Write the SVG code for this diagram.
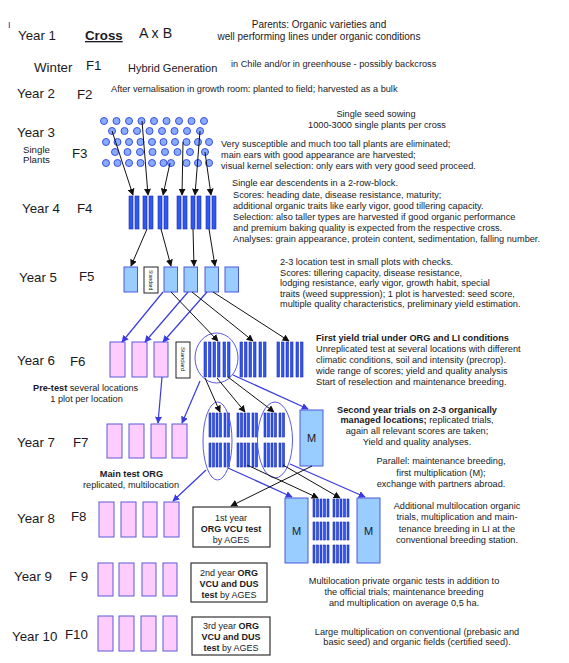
<svg xmlns="http://www.w3.org/2000/svg" xmlns:xlink="http://www.w3.org/1999/xlink" width="569" height="663" viewBox="0 0 569 663">
<style>
text{font-family:"Liberation Sans",Arial,sans-serif;fill:#1a1a24}
.yr{font-size:13.3px}
.sm{font-size:9.2px}
.mid{text-anchor:middle}
.b{font-weight:bold}
.pl{font-size:9.7px}
.plot{fill:#99ccff;stroke:#4a5ae0;stroke-width:1}
.pink{fill:#ffccff;stroke:#5a5ad8;stroke-width:1}
.std{fill:#fff;stroke:#222;stroke-width:1}
.bar{fill:#3058ee;stroke:#1c2cb8;stroke-width:0.6}
.dot{fill:#88aaff;stroke:#3a50e0;stroke-width:1}
.ell{fill:none;stroke:#5a5ae0;stroke-width:1}
.ab{stroke:#111;stroke-width:1;fill:none;marker-end:url(#mb)}
.au{stroke:#3a3ae0;stroke-width:1.2;fill:none;marker-end:url(#mu)}
.box{fill:#fff;stroke:#333;stroke-width:1.2}
.bt{font-size:9px;text-anchor:middle}
.st{font-size:5px}
</style>
<defs>
<marker id="mb" viewBox="0 0 10 10" refX="9" refY="5" markerWidth="7" markerHeight="7" orient="auto" markerUnits="userSpaceOnUse"><path d="M0,0 L10,5 L0,10 z" fill="#111"/></marker>
<marker id="mu" viewBox="0 0 10 10" refX="9" refY="5" markerWidth="7" markerHeight="7" orient="auto" markerUnits="userSpaceOnUse"><path d="M0,0 L10,5 L0,10 z" fill="#3a3ae0"/></marker>
<g id="pair"><rect class="bar" x="0" y="0" width="4" height="33"/><rect class="bar" x="6" y="0" width="4" height="33"/></g>
<g id="g6"><rect class="bar" x="0" y="0" width="2.5" height="35"/><rect class="bar" x="4.5" y="0" width="2.5" height="35"/><rect class="bar" x="9" y="0" width="2.5" height="35"/><rect class="bar" x="13.5" y="0" width="2.5" height="35"/><rect class="bar" x="19" y="0" width="2.5" height="35"/><rect class="bar" x="23.5" y="0" width="2.5" height="35"/></g>
<g id="r7"><rect class="bar" x="0" y="0" width="2" height="24"/><rect class="bar" x="3.5" y="0" width="2" height="24"/><rect class="bar" x="7" y="0" width="2" height="24"/><rect class="bar" x="10.5" y="0" width="2" height="24"/><rect class="bar" x="15" y="0" width="2" height="24"/><rect class="bar" x="18.5" y="0" width="2" height="24"/></g>
<g id="g7"><use xlink:href="#r7" x="0" y="0"/><use xlink:href="#r7" x="0" y="30"/></g>
<g id="r8"><rect class="bar" x="0" y="0" width="2" height="18"/><rect class="bar" x="3.5" y="0" width="2" height="18"/><rect class="bar" x="7" y="0" width="2" height="18"/><rect class="bar" x="10.5" y="0" width="2" height="18"/><rect class="bar" x="14" y="0" width="2" height="18"/><rect class="bar" x="20" y="0" width="2" height="18"/><rect class="bar" x="23.5" y="0" width="2" height="18"/><rect class="bar" x="27" y="0" width="2" height="18"/><rect class="bar" x="30.5" y="0" width="2" height="18"/><rect class="bar" x="34" y="0" width="2" height="18"/></g>
</defs>

<text x="8" y="28" style="font-size:9px;fill:#2030a0">I</text>

<g id="year1">
<text class="yr" x="18" y="40">Year 1</text>
<text class="yr b" x="85" y="40" text-decoration="underline">Cross</text>
<text x="139" y="38" style="font-size:14.2px">A x B</text>
<text x="319" y="28" class="mid" style="font-size:10px">Parents: Organic varieties and</text>
<text x="319" y="40" class="mid" style="font-size:10px">well performing lines under organic conditions</text>
</g>

<g id="winter">
<text class="yr" x="34" y="72">Winter</text>
<text class="yr" x="86" y="70">F1</text>
<text x="128" y="72" style="font-size:11px">Hybrid Generation</text>
<text class="sm" x="231" y="67">in Chile and/or in greenhouse -  possibly backcross</text>
</g>

<g id="year2">
<text class="yr" x="17" y="98">Year 2</text>
<text class="yr" x="77" y="99">F2</text>
<text class="sm" x="111" y="92">After vernalisation in growth room: planted to field; harvested as a bulk</text>
</g>

<g id="year3">
<text class="yr" x="17" y="137">Year 3</text>
<text class="pl" x="23" y="153">Single</text>
<text class="pl" x="23" y="163">Plants</text>
<text class="yr" x="72" y="158">F3</text>
<g id="plants">
<circle class="dot" cx="104" cy="121" r="3.5"/><circle class="dot" cx="116.5" cy="121" r="3.5"/><circle class="dot" cx="129" cy="121" r="3.5"/><circle class="dot" cx="141.5" cy="121" r="3.5"/><circle class="dot" cx="154" cy="121" r="3.5"/><circle class="dot" cx="166.5" cy="121" r="3.5"/><circle class="dot" cx="179" cy="121" r="3.5"/><circle class="dot" cx="191.5" cy="121" r="3.5"/><circle class="dot" cx="204" cy="121" r="3.5"/>
<circle class="dot" cx="112" cy="131" r="3.5"/><circle class="dot" cx="124.5" cy="131" r="3.5"/><circle class="dot" cx="137" cy="131" r="3.5"/><circle class="dot" cx="149.5" cy="131" r="3.5"/><circle class="dot" cx="162" cy="131" r="3.5"/><circle class="dot" cx="174.5" cy="131" r="3.5"/><circle class="dot" cx="187" cy="131" r="3.5"/><circle class="dot" cx="200" cy="131" r="3.5"/>
<circle class="dot" cx="106" cy="142" r="3.5"/><circle class="dot" cx="117.5" cy="142" r="3.5"/><circle class="dot" cx="129" cy="142" r="3.5"/><circle class="dot" cx="140.5" cy="142" r="3.5"/><circle class="dot" cx="152" cy="142" r="3.5"/><circle class="dot" cx="163.5" cy="142" r="3.5"/><circle class="dot" cx="175" cy="142" r="3.5"/><circle class="dot" cx="186.5" cy="142" r="3.5"/><circle class="dot" cx="198" cy="142" r="3.5"/><circle class="dot" cx="209" cy="142" r="3.5"/>
<circle class="dot" cx="115" cy="152" r="3.5"/><circle class="dot" cx="127.5" cy="152" r="3.5"/><circle class="dot" cx="140" cy="152" r="3.5"/><circle class="dot" cx="152.5" cy="152" r="3.5"/><circle class="dot" cx="165" cy="152" r="3.5"/><circle class="dot" cx="177.5" cy="152" r="3.5"/><circle class="dot" cx="190" cy="152" r="3.5"/><circle class="dot" cx="205" cy="152" r="3.5"/>
<circle class="dot" cx="106" cy="163" r="3.5"/><circle class="dot" cx="117.5" cy="163" r="3.5"/><circle class="dot" cx="129" cy="163" r="3.5"/><circle class="dot" cx="140.5" cy="163" r="3.5"/><circle class="dot" cx="152" cy="163" r="3.5"/><circle class="dot" cx="163.5" cy="163" r="3.5"/><circle class="dot" cx="171" cy="163" r="3.5"/><circle class="dot" cx="186.5" cy="163" r="3.5"/><circle class="dot" cx="198" cy="163" r="3.5"/><circle class="dot" cx="209" cy="163" r="3.5"/>
</g>
<text class="sm mid" x="376" y="117">Single seed sowing</text>
<text class="sm mid" x="377" y="128">1000-3000 single plants per cross</text>
<text class="sm" x="221" y="147">Very susceptible and much too tall plants are eliminated;</text>
<text class="sm" x="221" y="158">main ears with good appearance are harvested;</text>
<text class="sm" x="221" y="169">visual kernel selection: only ears with very good seed proceed.</text>
</g>

<g id="year4">
<text class="yr" x="22" y="213">Year 4</text>
<text class="yr" x="77" y="213">F4</text>
<use xlink:href="#pair" x="129" y="196"/><use xlink:href="#pair" x="143" y="196"/><use xlink:href="#pair" x="158" y="196"/><use xlink:href="#pair" x="177" y="196"/><use xlink:href="#pair" x="191" y="196"/><use xlink:href="#pair" x="206" y="196"/>
<text class="sm" x="232" y="186">Single ear descendents in a 2-row-block.</text>
<text class="sm" x="233" y="198">Scores: heading date, disease resistance, maturity;</text>
<text class="sm" x="233" y="209">additional organic traits like early vigor, good tillering capacity.</text>
<text class="sm" x="233" y="220">Selection: also taller types are harvested if good organic performance</text>
<text class="sm" x="233" y="231">and premium baking quality is expected from the respective cross.</text>
<text class="sm" x="233" y="242">Analyses: grain appearance, protein content, sedimentation, falling number.</text>
</g>

<g id="year5">
<text class="yr" x="19" y="282">Year 5</text>
<text class="yr" x="79" y="281">F5</text>
<rect class="plot" x="124" y="267" width="13.5" height="25"/>
<rect class="std" x="144" y="267" width="14" height="26"/>
<text class="st" transform="translate(149.3,270) rotate(90)">Standard</text>
<rect class="plot" x="164" y="267" width="13.5" height="25"/>
<rect class="plot" x="184" y="267" width="13.5" height="25"/>
<rect class="plot" x="205" y="267" width="13.5" height="25"/>
<rect class="plot" x="225" y="267" width="13.5" height="25"/>
<text class="sm" x="280" y="265">2-3 location test in small plots with checks.</text>
<text class="sm" x="280" y="276">Scores: tillering capacity, disease resistance,</text>
<text class="sm" x="280" y="286">lodging resistance, early vigor, growth habit, special</text>
<text class="sm" x="280" y="297">traits (weed suppression); 1 plot is harvested: seed score,</text>
<text class="sm" x="280" y="307">multiple quality characteristics, preliminary yield estimation.</text>
</g>

<g id="year6">
<text class="yr" x="17" y="365">Year 6</text>
<text class="yr" x="70" y="366">F6</text>
<rect class="pink" x="110" y="342" width="15" height="35"/>
<rect class="pink" x="132" y="342" width="15" height="35"/>
<rect class="pink" x="154" y="342" width="14" height="35"/>
<rect class="std" x="176" y="342" width="14" height="36"/>
<text transform="translate(181,347) rotate(90)" style="font-size:6px">Standard</text>
<use xlink:href="#g6" x="204" y="342"/>
<ellipse class="ell" cx="216.5" cy="358" rx="21.5" ry="25"/>
<use xlink:href="#g6" x="240" y="342"/>
<use xlink:href="#g6" x="277" y="342"/>
<text class="sm" x="33" y="391"><tspan class="b">Pre-test</tspan> several locations</text>
<text class="sm mid" x="86.5" y="402">1 plot per location</text>
<text class="sm b" x="316" y="341">First yield trial under ORG and LI conditions</text>
<text class="sm" x="316" y="352">Unreplicated test at several locations with different</text>
<text class="sm" x="316" y="363">climatic conditions, soil and intensity (precrop).</text>
<text class="sm" x="316" y="374">wide range of scores; yield and quality analysis</text>
<text class="sm" x="316" y="385">Start of reselection and maintenance breeding.</text>
</g>

<g id="year7">
<text class="yr" x="17" y="447">Year 7</text>
<text class="yr" x="73" y="447">F7</text>
<rect class="pink" x="107" y="424" width="15" height="34"/>
<rect class="pink" x="129" y="424" width="15" height="34"/>
<rect class="pink" x="151" y="424" width="15" height="34"/>
<rect class="pink" x="172" y="424" width="15" height="34"/>
<use xlink:href="#g7" x="209" y="413"/>
<ellipse class="ell" cx="217.5" cy="441" rx="14.5" ry="39"/>
<use xlink:href="#g7" x="237" y="413"/>
<use xlink:href="#g7" x="264" y="413"/>
<ellipse class="ell" cx="275" cy="440" rx="17.5" ry="38"/>
<rect class="plot" x="300" y="410" width="23" height="56"/>
<text x="311.5" y="442" class="mid" style="font-size:11px">M</text>
<text class="sm mid" x="131.5" y="477"><tspan class="b">Main test  ORG</tspan></text>
<text class="sm mid" x="131" y="488">replicated, multilocation</text>
<text class="sm mid b" x="417" y="413">Second year trials on 2-3 organically</text>
<text class="sm mid" x="417" y="423"><tspan class="b">managed locations;</tspan> replicated trials,</text>
<text class="sm mid" x="417" y="434">again all relevant scores are taken;</text>
<text class="sm mid" x="417" y="445">Yield  and quality analyses.</text>
<text class="sm mid" x="441" y="464">Parallel: maintenance breeding,</text>
<text class="sm mid" x="441" y="476">first multiplication (M);</text>
<text class="sm mid" x="441" y="487">exchange with partners abroad.</text>
</g>

<g id="year8">
<text class="yr" x="17" y="523">Year 8</text>
<text class="yr" x="71" y="521">F8</text>
<rect class="pink" x="99" y="502" width="15" height="35"/>
<rect class="pink" x="121" y="502" width="15" height="35"/>
<rect class="pink" x="143" y="502" width="14" height="35"/>
<rect class="pink" x="164" y="502" width="15" height="35"/>
<rect class="box" x="193" y="507" width="77" height="40"/>
<text class="bt" x="231" y="521">1st  year</text>
<text class="bt b" x="231" y="532">ORG VCU test</text>
<text class="bt" x="231" y="543">by AGES</text>
<rect class="plot" x="285" y="498" width="23" height="65"/>
<text x="296.5" y="535" class="mid" style="font-size:11px">M</text>
<use xlink:href="#r8" x="313" y="499"/>
<use xlink:href="#r8" x="313" y="522"/>
<use xlink:href="#r8" x="313" y="545"/>
<rect class="plot" x="357" y="498" width="23" height="65"/>
<text x="368.5" y="535" class="mid" style="font-size:11px">M</text>
<text class="sm mid" x="457" y="509">Additional multilocation organic</text>
<text class="sm mid" x="457" y="520">trials, multiplication and main-</text>
<text class="sm mid" x="457" y="531.5">tenance breeding in LI at the</text>
<text class="sm mid" x="457" y="542.5">conventional breeding station.</text>
</g>

<g id="year9">
<text class="yr" x="14" y="581">Year 9</text>
<text class="yr" x="69" y="581">F 9</text>
<rect class="pink" x="98" y="563" width="15" height="33"/>
<rect class="pink" x="119" y="563" width="15" height="33"/>
<rect class="pink" x="142" y="563" width="14" height="33"/>
<rect class="pink" x="163" y="563" width="14" height="33"/>
<rect class="box" x="191" y="563" width="76" height="39"/>
<text class="bt" x="229" y="576">2nd  year <tspan class="b">ORG</tspan></text>
<text class="bt b" x="229" y="587">VCU and DUS</text>
<text class="bt" x="229" y="598"><tspan class="b">test</tspan> by AGES</text>
<text class="sm mid" x="404" y="584">Multilocation private organic tests in addition to</text>
<text class="sm mid" x="404" y="595">the official trials; maintenance breeding</text>
<text class="sm mid" x="404" y="606">and multiplication on average 0,5 ha.</text>
</g>

<g id="year10">
<text class="yr" x="12" y="641">Year 10</text>
<text class="yr" x="65" y="639">F10</text>
<rect class="pink" x="98" y="616" width="15" height="35"/>
<rect class="pink" x="119" y="616" width="15" height="35"/>
<rect class="pink" x="141" y="616" width="15" height="35"/>
<rect class="pink" x="163" y="616" width="14" height="35"/>
<rect class="box" x="192" y="617" width="78" height="38"/>
<text class="bt" x="231" y="629">3rd year <tspan class="b">ORG</tspan></text>
<text class="bt b" x="231" y="640">VCU and DUS</text>
<text class="bt" x="231" y="651"><tspan class="b">test</tspan> by AGES</text>
<text class="sm mid" x="417" y="635">Large multiplication on conventional (prebasic and</text>
<text class="sm mid" x="417" y="645">basic seed) and organic fields (certified seed).</text>
</g>

<g id="connectors">
<path class="ab" d="M112,131 L133,195"/>
<path class="ab" d="M142,121 L148,195"/>
<path class="ab" d="M170,163 L163,195"/>
<path class="ab" d="M183,142 L182,195"/>
<path class="ab" d="M200,131 L195,195"/>
<path class="ab" d="M205,152 L211,195"/>
<path class="ab" d="M147,229 L131,266"/>
<path class="ab" d="M161,229 L171,266"/>
<path class="ab" d="M193,229 L194,266"/>
<path class="ab" d="M209,229 L215,266"/>
<path class="au" d="M163,292 L122,342"/>
<path class="au" d="M188,292 L145,342"/>
<path class="au" d="M207,292 L163,342"/>
<path class="ab" d="M171,292 L218,341"/>
<path class="ab" d="M192,292 L253,341"/>
<path class="ab" d="M213,292 L289,341"/>
<path class="au" d="M162,377 L158,423"/>
<path class="au" d="M200,381 L182,423"/>
<path class="au" d="M233,375 L308,409"/>
<path class="ab" d="M205,378 L220,412"/>
<path class="ab" d="M217,378 L245,412"/>
<path class="ab" d="M228,377 L274,412"/>
<path class="au" d="M206,470 L173,501"/>
<path class="au" d="M228,468 L292,497"/>
<path class="ab" d="M247,465 L318,498"/>
<path class="ab" d="M283,465 L340,498"/>
<path class="au" d="M290,464 L365,497"/>
<path class="ab" d="M312,466 L231,506"/>
</g>
</svg>
